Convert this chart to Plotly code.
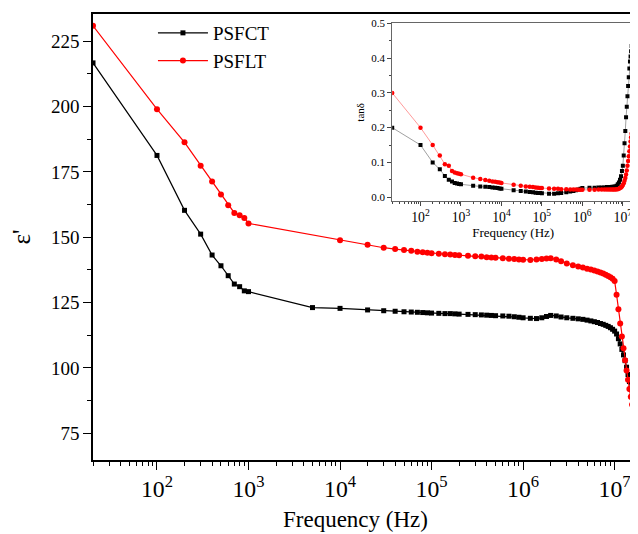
import math
import plotly.graph_objects as go

# ---------------- data: main panel (epsilon') ----------------
freq_fct = [20, 100, 200, 300, 400, 500, 600, 700, 800, 900, 1000,
            5000,
            1e4, 2e4, 3e4, 4e4, 5e4, 6e4, 7e4, 8e4, 9e4,
            1e5, 1.2e5, 1.4e5, 1.6e5, 1.8e5, 2e5, 2.5e5, 3e5, 3.5e5, 4e5,
            4.5e5, 5e5, 6e5, 7e5, 8e5, 9e5, 1e6, 1.2e6, 1.4e6, 1.6e6,
            1.8e6, 2e6, 2.3e6, 2.6e6, 3e6, 3.5e6, 4e6, 4.5e6, 5e6, 5.5e6,
            6e6, 6.5e6, 7e6, 7.5e6, 8e6, 8.5e6, 9e6, 9.5e6, 1e7, 1.05e7,
            1.1e7, 1.15e7, 1.2e7, 1.25e7, 1.3e7, 1.35e7, 1.4e7, 1.45e7, 1.5e7, 1.55e7,
            1.6e7, 1.65e7, 1.7e7, 1.75e7, 1.8e7]
eps_fct = [216.7, 181.3, 160.3, 151.2, 143.2, 139.1, 135.3, 132.1, 131.1, 129.5, 129.2,
           123.1,
           122.8, 122.2, 121.9, 121.7, 121.5, 121.4, 121.3, 121.2, 121.1,
           121.0, 120.9, 120.8, 120.8, 120.7, 120.6, 120.5, 120.4, 120.3, 120.2,
           120.1, 120.0, 119.9, 119.8, 119.6, 119.4, 119.2, 119.0, 118.9, 119.2,
           119.7, 120.1, 119.9, 119.5, 119.2, 119.0, 118.8, 118.6, 118.3, 118.0,
           117.7, 117.4, 117.0, 116.7, 116.3, 115.9, 115.4, 114.8, 114.1, 113.0,
           111.2, 109.2, 107.1, 105.0, 102.8, 100.3, 97.5, 94.8, 92.0, 89.0,
           85.5, 81.5, 77.3, 72.8, 68.0]

freq_flt = [20, 100, 200, 300, 400, 500, 600, 700, 800, 900, 1000,
            1e4, 2e4, 3e4, 4e4, 5e4, 6e4, 7e4, 8e4, 9e4,
            1e5, 1.2e5, 1.4e5, 1.6e5, 1.8e5, 2e5, 2.5e5, 3e5, 3.5e5, 4e5,
            4.5e5, 5e5, 6e5, 7e5, 8e5, 9e5, 1e6, 1.2e6, 1.4e6, 1.6e6,
            1.8e6, 2e6, 2.3e6, 2.6e6, 3e6, 3.5e6, 4e6, 4.5e6, 5e6, 5.5e6,
            6e6, 6.5e6, 7e6, 7.5e6, 8e6, 8.5e6, 9e6, 9.5e6, 1e7, 1.05e7,
            1.1e7, 1.15e7, 1.2e7, 1.25e7, 1.3e7, 1.35e7, 1.4e7, 1.45e7, 1.5e7, 1.55e7,
            1.6e7, 1.65e7, 1.7e7, 1.75e7, 1.8e7]
eps_flt = [230.9, 199.0, 186.3, 177.4, 171.3, 166.4, 162.2, 159.3, 158.4, 157.4, 155.3,
           148.9, 147.1, 146.0, 145.5, 145.1, 144.8, 144.5, 144.3, 144.1,
           143.9, 143.7, 143.5, 143.4, 143.2, 143.1, 142.9, 142.7, 142.6, 142.4,
           142.3, 142.2, 142.0, 141.8, 141.7, 141.5, 141.4, 141.3, 141.5, 141.7,
           141.9, 142.0, 141.5, 140.8, 140.0, 139.3, 138.8, 138.4, 138.0, 137.7,
           137.3, 136.9, 136.5, 136.1, 135.7, 135.2, 134.7, 134.1, 133.3, 128.0,
           122.5, 117.0, 112.0, 107.5, 103.0, 99.0, 95.5, 92.0, 89.0, 86.0,
           82.5, 79.0, 75.5, 71.5, 66.0]

# ---------------- data: inset (tan delta) ----------------
freq_tan = [20, 100, 200, 300, 400, 500, 600, 700, 800, 900, 1000,
            2000, 3000, 4000, 5000, 6000, 7000, 8000, 9000, 1e4,
            2e4, 3e4, 4e4, 5e4, 6e4, 7e4, 8e4, 9e4, 1e5,
            1.5e5, 2e5, 2.5e5, 3e5, 4e5, 5e5, 6e5, 7e5, 8e5, 9e5, 1e6,
            1.5e6, 2e6, 2.5e6, 3e6, 3.5e6, 4e6, 4.5e6, 5e6, 5.5e6, 6e6,
            6.5e6, 7e6, 7.5e6, 8e6, 8.5e6, 9e6, 9.5e6, 1e7,
            1.05e7, 1.1e7, 1.15e7, 1.2e7, 1.25e7, 1.3e7, 1.35e7, 1.4e7,
            1.45e7, 1.5e7, 1.55e7, 1.6e7, 1.65e7, 1.7e7, 1.75e7, 1.8e7]
tan_fct = [0.200, 0.150, 0.100, 0.080, 0.061, 0.050, 0.045, 0.041, 0.039, 0.038, 0.037,
           0.033, 0.031, 0.030, 0.029, 0.028, 0.027, 0.026, 0.025, 0.024,
           0.020, 0.018, 0.016, 0.015, 0.014, 0.013, 0.012, 0.012, 0.011,
           0.010, 0.010, 0.011, 0.012, 0.014, 0.016, 0.018, 0.020, 0.022, 0.024, 0.026,
           0.027, 0.027, 0.028, 0.028, 0.028, 0.029, 0.029, 0.029, 0.030, 0.030,
           0.031, 0.033, 0.037, 0.042, 0.050, 0.060, 0.075, 0.090,
           0.120, 0.155, 0.190, 0.230, 0.260, 0.290, 0.320, 0.345,
           0.370, 0.390, 0.405, 0.420, 0.435, 0.445, 0.455, 0.460]
tan_flt = [0.300, 0.200, 0.150, 0.120, 0.095, 0.090, 0.075, 0.071, 0.069, 0.067, 0.066,
           0.056, 0.052, 0.049, 0.047, 0.045, 0.044, 0.043, 0.042, 0.041,
           0.036, 0.033, 0.031, 0.030, 0.029, 0.028, 0.027, 0.026, 0.026,
           0.025, 0.024, 0.024, 0.023, 0.023, 0.022, 0.022, 0.022, 0.021, 0.021, 0.021,
           0.021, 0.021, 0.022, 0.022, 0.022, 0.022, 0.022, 0.022, 0.022, 0.022,
           0.022, 0.023, 0.023, 0.024, 0.026, 0.028, 0.031, 0.035,
           0.040, 0.047, 0.055, 0.065, 0.077, 0.090, 0.104, 0.118,
           0.132, 0.146, 0.160, 0.172, 0.183, 0.193, 0.202, 0.210]

FONT = "Liberation Serif, Times New Roman, serif"
BLACK = "#000000"
RED = "#ff0000"

fig = go.Figure()
fig.add_trace(go.Scatter(x=freq_fct, y=eps_fct, name="PSFCT", mode="lines+markers",
                         line=dict(color=BLACK, width=1.2),
                         marker=dict(symbol="square", size=5, color=BLACK),
                         xaxis="x", yaxis="y"))
fig.add_trace(go.Scatter(x=freq_flt, y=eps_flt, name="PSFLT", mode="lines+markers",
                         line=dict(color=RED, width=1.2),
                         marker=dict(symbol="circle", size=6, color=RED),
                         xaxis="x", yaxis="y"))
fig.add_trace(go.Scatter(x=freq_tan, y=tan_fct, mode="lines+markers", showlegend=False,
                         line=dict(color="#888888", width=0.8),
                         marker=dict(symbol="square", size=4, color=BLACK),
                         xaxis="x2", yaxis="y2"))
fig.add_trace(go.Scatter(x=freq_tan, y=tan_flt, mode="lines+markers", showlegend=False,
                         line=dict(color="#ff8080", width=0.8),
                         marker=dict(symbol="circle", size=4.5, color=RED),
                         xaxis="x2", yaxis="y2"))

# The page body has an 8 px margin, so the figure is sized 630x526 to fill the window.
fig.update_layout(
    width=630, height=526,
    margin=dict(l=85, r=0, t=4, b=74),
    paper_bgcolor="white", plot_bgcolor="white",
    font=dict(family=FONT, color="black"),
    legend=dict(x=0.11, y=1.0, xanchor="left", yanchor="top",
                font=dict(family=FONT, size=19), itemwidth=50,
                bgcolor="rgba(0,0,0,0)", tracegroupgap=0),
    xaxis=dict(type="log", range=[math.log10(20), math.log10(1.8e7)],
               domain=[0, 1], anchor="y",
               dtick=1, exponentformat="power", showexponent="all",
               showline=True, linecolor="black", linewidth=1.6, mirror=True,
               ticks="outside", ticklen=8, tickwidth=1.3, tickcolor="black",
               minor=dict(ticks="outside", ticklen=4, tickwidth=1, dtick="D1", tickcolor="black"),
               showgrid=False, zeroline=False,
               tickfont=dict(family=FONT, size=19)),
    yaxis=dict(range=[64.8, 235.4], domain=[0, 1], anchor="x",
               tick0=0, dtick=25,
               showline=True, linecolor="black", linewidth=1.5,
               ticks="outside", ticklen=8, tickwidth=1.3, tickcolor="black",
               minor=dict(ticks="outside", ticklen=4, tickwidth=1, tick0=0, dtick=12.5, tickcolor="black"),
               showgrid=False, zeroline=False,
               tickfont=dict(family=FONT, size=19),
               title=dict(text="ε'", font=dict(family=FONT, size=25), standoff=20)),
    xaxis2=dict(type="log", range=[math.log10(20), 7.28],
                domain=[0.549, 0.993], anchor="y2",
                dtick=1, exponentformat="power", showexponent="all",
                showline=True, linecolor="#666666", linewidth=1, mirror=True,
                ticks="outside", ticklen=4, tickwidth=1, tickcolor="#444444",
                minor=dict(ticks="outside", ticklen=2, tickwidth=0.8, dtick="D1", tickcolor="#444444"),
                showgrid=False, zeroline=False,
                tickfont=dict(family=FONT, size=11),
                title=dict(text="Frequency (Hz)", font=dict(family=FONT, size=13), standoff=2)),
    yaxis2=dict(range=[-0.012, 0.5], domain=[0.580, 0.979], anchor="x2",
                tick0=0, dtick=0.1, tickformat=".1f",
                showline=True, linecolor="#666666", linewidth=1, mirror=True,
                ticks="outside", ticklen=4, tickwidth=1, tickcolor="#444444",
                minor=dict(ticks="outside", ticklen=2, tickwidth=0.8, tick0=0, dtick=0.05, tickcolor="#444444"),
                showgrid=False, zeroline=False,
                tickfont=dict(family=FONT, size=11),
                title=dict(text="tanδ", font=dict(family=FONT, size=11), standoff=4)),
    annotations=[dict(text="Frequency (Hz)", xref="paper", yref="paper",
                      x=0.481, y=-0.134, xanchor="center", yanchor="middle",
                      showarrow=False, font=dict(family=FONT, size=23))],
)

fig.write_html("out.html")
